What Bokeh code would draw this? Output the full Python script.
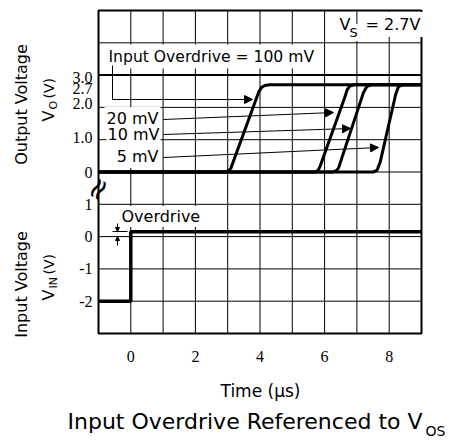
import numpy as np
from bokeh.plotting import figure
from bokeh.models import Range1d, Label, LabelSet, ColumnDataSource, Arrow, NormalHead
from bokeh.embed import file_html
from bokeh.resources import INLINE

# ---------------- data ----------------
# output traces (time in us, output voltage in V)
t_100mv = [-1.0, 2.9, 3.02, 3.1, 3.96, 4.05, 4.15, 4.3, 9.0]
v_100mv = [0.0, 0.0, 0.03, 0.12, 2.48, 2.62, 2.68, 2.7, 2.7]
t_20mv = [-1.0, 5.7, 5.8, 5.87, 6.62, 6.7, 6.78, 6.9, 9.0]
v_20mv = [0.0, 0.0, 0.05, 0.2, 2.3, 2.55, 2.66, 2.7, 2.7]
t_10mv = [-1.0, 6.25, 6.36, 6.43, 7.2, 7.28, 7.35, 7.45, 9.0]
v_10mv = [0.0, 0.0, 0.04, 0.12, 2.45, 2.6, 2.67, 2.7, 2.7]
t_5mv = [-1.0, 7.5, 7.62, 7.72, 8.2, 8.27, 8.33, 8.42, 9.0]
v_5mv = [0.0, 0.0, 0.05, 0.3, 2.4, 2.6, 2.67, 2.7, 2.7]

# input step (time in us, input voltage in V; overdrive exaggerated)
t_in = [-1.0, 0.0, 0.0, 9.0]
v_in = [-2.0, -2.0, 0.15, 0.15]

x_ticks = [0, 2, 4, 6, 8]
x_tick_labels = ["0", "2", "4", "6", "8"]
out_tick_values = [3.0, 2.7, 2.0, 1.0, 0.0]
out_tick_labels = ["3.0", "2.7", "2.0", "1.0", "0"]
in_tick_values = [1, 0, -1, -2]
in_tick_labels = ["1", "0", "-1", "-2"]
out_bold_line = [3.0]

# ---------------- layout ----------------
FONT = "DejaVu Sans"
W, H = 455, 440
FL, FR, FT, FB = 98, 421, 10, 333          # grid box in page pixels
T_MIN, T_MAX = -1, 9
IN_MIN, IN_MAX = -3, 7
OUT_SHIFT = 2                               # output 0 V sits two divisions above input 0 V
grid_t = list(range(T_MIN, T_MAX + 1))
grid_in = list(range(IN_MIN, IN_MAX + 1))
out_label_shift = [-2, -4, 4, 2, 0]         # px nudges for crowded output tick labels

sx = (FR - FL) / (T_MAX - T_MIN)
sy = (FB - FT) / (IN_MAX - IN_MIN)


def X(px):
    return T_MIN + (px - FL) / sx


def Y(py):
    return IN_MAX - (py - FT) / sy


p = figure(width=W, height=H, x_range=Range1d(X(0), X(W)), y_range=Range1d(Y(H), Y(0)),
           output_backend="svg", toolbar_location=None, min_border=0)
p.extra_y_ranges = {"out": Range1d(Y(H) - OUT_SHIFT, Y(0) - OUT_SHIFT)}
p.xaxis.visible = False
p.yaxis.visible = False
p.xgrid.visible = False
p.ygrid.visible = False
p.outline_line_color = None
p.background_fill_color = "white"
p.border_fill_color = "white"

# grid
p.segment(x0=grid_t, y0=[IN_MIN] * len(grid_t), x1=grid_t, y1=[IN_MAX] * len(grid_t),
          line_color="black", line_width=1)
p.segment(x0=[T_MIN] * len(grid_in), y0=grid_in, x1=[T_MAX] * len(grid_in), y1=grid_in,
          line_color="black", line_width=1)
p.segment(x0=[T_MIN], y0=out_bold_line, x1=[T_MAX], y1=out_bold_line,
          line_color="black", line_width=2, y_range_name="out")
p.quad(left=[T_MIN], right=[T_MAX], bottom=[IN_MIN], top=[IN_MAX],
       fill_color=None, line_color="black", line_width=2)

# traces
for tt, vv in ((t_100mv, v_100mv), (t_20mv, v_20mv), (t_10mv, v_10mv), (t_5mv, v_5mv)):
    p.line(tt, vv, line_color="black", line_width=3, line_join="round",
           y_range_name="out", level="overlay")
p.line(t_in, v_in, line_color="black", line_width=3.5, level="overlay")

# tick labels
src_x = ColumnDataSource(dict(x=x_ticks, text=x_tick_labels))
p.add_layout(LabelSet(x="x", y=Y(356), text="text", source=src_x,
                      text_align="center", text_baseline="middle",
                      text_font=FONT, text_font_size="16px", text_color="black"))
src_out = ColumnDataSource(dict(y=out_tick_values, text=out_tick_labels, dy=out_label_shift))
p.add_layout(LabelSet(x=T_MIN, y="y", text="text", y_offset="dy", x_offset=-6, source=src_out,
                      y_range_name="out", text_align="right", text_baseline="middle",
                      text_font=FONT, text_font_size="16px", text_color="black"))
src_in = ColumnDataSource(dict(y=in_tick_values, text=in_tick_labels))
p.add_layout(LabelSet(x=T_MIN, y="y", text="text", x_offset=-6, source=src_in,
                      text_align="right", text_baseline="middle",
                      text_font=FONT, text_font_size="16px", text_color="black"))


def lab(text, px, py, size="16px", align="left", angle=0.0, bg=None, pad=0):
    # (px, py): page position of the text's start/centre, vertically at its middle
    kw = dict(x=X(px), y=Y(py), text=text, text_font=FONT, text_font_size=size,
              text_color="black", text_align=align, text_baseline="middle", angle=angle)
    if bg:
        kw["background_fill_color"] = bg
        kw["padding"] = pad
    p.add_layout(Label(**kw))


# V_S = 2.7V
lab("V", 337, 24, bg="white", pad=2)
lab("S", 348, 32, size="13px", bg="white", pad=1)
lab("= 2.7V", 362, 24, bg="white", pad=3)

# overdrive labels
lab("Input Overdrive = 100 mV", 105, 56, size="15.6px", bg="white", pad=3)
lab("20 mV", 160, 118, align="right", bg="white", pad=2)
lab("10 mV", 160, 134, align="right", bg="white", pad=1)
lab("5 mV", 160, 156, align="right", bg="white", pad=2)
lab("Overdrive", 120, 216, bg="white", pad=1)


# arrows (page-pixel anchors of the call-out lines)
def arrow(x0, y0, x1, y1, size=8):
    end = NormalHead(size=size, fill_color="black", line_color="black") if size else None
    p.add_layout(Arrow(end=end, x_start=X(x0), y_start=Y(y0), x_end=X(x1), y_end=Y(y1),
                       line_width=1, line_color="black"))


arrow(112, 65, 112, 99, size=0)
arrow(112, 99, 252, 99)
arrow(163, 119, 333, 112)
arrow(163, 134, 350, 128)
arrow(163, 157, 378, 147)

# overdrive dimension marker
arrow(112, 231, 127, 231, size=0)
arrow(117, 223, 117, 231, size=4)
arrow(117, 245, 117, 236, size=4)

# axis break
lab("\u2248", 97, 188, size="30px", align="center", angle=np.pi / 3)

# axis titles
rot = np.pi / 2
lab("Output Voltage", 21, 104, align="center", angle=rot)
lab("V", 48, 121, angle=rot)
lab("O", 53, 109, size="11px", angle=rot)
lab("(V)", 48, 98, size="14px", angle=rot)
lab("Input Voltage", 21, 284, align="center", angle=rot)
lab("V", 48, 300, angle=rot)
lab("IN", 53, 288, size="11px", angle=rot)
lab("(V)", 48, 274, size="14px", angle=rot)
lab("Time (\u00b5s)", 260, 390, size="17px", align="center")

# chart title with subscript
lab("Input Overdrive Referenced to V", 67, 421, size="22px")
lab("OS", 425, 430, size="14px")

open("out.html", "w").write(file_html(p, INLINE))
